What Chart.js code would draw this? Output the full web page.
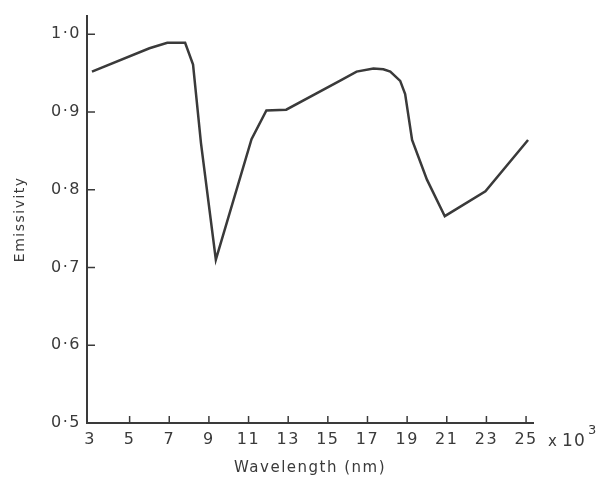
<!DOCTYPE html>
<html>
<head>
<meta charset="utf-8">
<script src="https://cdn.jsdelivr.net/npm/chart.js@4/dist/chart.umd.min.js"></script>
<style>
  html, body { margin: 0; padding: 0; background: #fff; }
  #wrap { width: 603px; height: 486px; }
</style>
</head>
<body>
<div id="wrap"><canvas id="chart" width="603" height="486"></canvas></div>
<script>
// data (wavelength in units of 10^3 nm)
const wavelength = [3.1, 6.0, 6.9, 7.8, 8.2, 8.6, 9.35, 11.15, 11.9, 12.9, 15.6, 16.45, 17.3, 17.8, 18.15, 18.65, 18.9, 19.25, 20.0, 20.9, 22.95, 25.1];
const emissivity = [0.952, 0.982, 0.989, 0.989, 0.961, 0.86, 0.71, 0.865, 0.902, 0.903, 0.94, 0.952, 0.956, 0.955, 0.952, 0.94, 0.923, 0.864, 0.813, 0.766, 0.798, 0.864];

const xTicks = [3, 5, 7, 9, 11, 13, 15, 17, 19, 21, 23, 25];
const yTicks = [0.5, 0.6, 0.7, 0.8, 0.9, 1.0];
const yTickLabels = ["0·5", "0·6", "0·7", "0·8", "0·9", "1·0"];

const ink = "#3a3a3a";
const font = "'DejaVu Sans', sans-serif";

// 軸內側的小刻度和 "x 10³"
const extras = {
  id: "extras",
  beforeDraw(chart) {
    chart.ctx.letterSpacing = "1.5px";
  },
  afterDraw(chart) {
    const { ctx, chartArea, scales } = chart;
    ctx.save();
    ctx.strokeStyle = ink;
    ctx.lineWidth = 1.5;
    xTicks.slice(1).forEach((v) => {
      const px = scales.x.getPixelForValue(v);
      ctx.beginPath();
      ctx.moveTo(px, chartArea.bottom);
      ctx.lineTo(px, chartArea.bottom - 7);
      ctx.stroke();
    });
    yTicks.slice(1).forEach((v) => {
      const py = scales.y.getPixelForValue(v);
      ctx.beginPath();
      ctx.moveTo(chartArea.left, py);
      ctx.lineTo(chartArea.left + 8, py);
      ctx.stroke();
    });
    ctx.fillStyle = ink;
    ctx.letterSpacing = "1px";
    ctx.textBaseline = "alphabetic";
    ctx.textAlign = "left";
    const x25 = scales.x.getPixelForValue(25);
    ctx.font = "15px " + font;
    ctx.fillText("x", x25 + 22, 446);
    ctx.font = "17px " + font;
    ctx.fillText("10", x25 + 36, 446);
    ctx.font = "13px " + font;
    ctx.fillText("3", x25 + 62, 434);
    ctx.restore();
  },
};

new Chart(document.querySelector("#chart"), {
  type: "line",
  data: {
    datasets: [
      {
        data: wavelength.map((x, i) => ({ x: x, y: emissivity[i] })),
        borderColor: ink,
        borderWidth: 2.5,
        pointRadius: 0,
        tension: 0,
        fill: false,
      },
    ],
  },
  options: {
    responsive: false,
    animation: false,
    layout: { padding: { top: 10, right: 70, left: 0, bottom: 0 } },
    plugins: { legend: { display: false }, tooltip: { enabled: false } },
    scales: {
      x: {
        type: "linear",
        min: 2.85,
        max: 25.35,
        afterBuildTicks: (s) => { s.ticks = xTicks.map((v) => ({ value: v })); },
        afterFit: (s) => { s.height = 63; },
        grid: { display: false, drawTicks: false },
        border: { display: true, color: ink, width: 2 },
        ticks: { color: ink, padding: 7, font: { family: font, size: 16 }, maxRotation: 0, autoSkip: false },
        title: {
          display: true,
          text: "Wavelength (nm)",
          color: ink,
          font: { family: font, size: 15 },
          padding: { top: 0, bottom: 9 },
        },
      },
      y: {
        min: 0.5,
        max: 1.024,
        afterBuildTicks: (s) => { s.ticks = yTicks.map((v) => ({ value: v })); },
        afterFit: (s) => { s.width = 87; },
        grid: { display: false, drawTicks: false },
        border: { display: true, color: ink, width: 2 },
        ticks: {
          color: ink,
          padding: 6,
          font: { family: font, size: 16 },
          callback: (v) => yTickLabels[yTicks.findIndex((t) => Math.abs(t - v) < 1e-6)] ?? "",
        },
        title: {
          display: true,
          text: "Emissivity",
          color: ink,
          font: { family: font, size: 14 },
          padding: { top: 12, bottom: 0 },
        },
      },
    },
  },
  plugins: [extras],
});
</script>
</body>
</html>
